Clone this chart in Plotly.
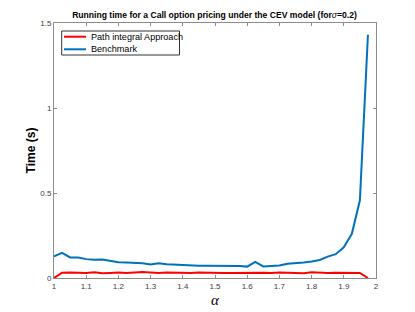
import plotly.graph_objects as go

alpha = [1 + 0.025 * k for k in range(40)]

path_integral = [0.0, 0.031, 0.032, 0.031, 0.029, 0.034, 0.028, 0.030, 0.032, 0.029,
                 0.031, 0.035, 0.032, 0.029, 0.032, 0.031, 0.029, 0.030, 0.032, 0.030,
                 0.030, 0.029, 0.030, 0.031, 0.030, 0.032, 0.031, 0.030, 0.033, 0.031,
                 0.029, 0.028, 0.034, 0.031, 0.030, 0.031, 0.032, 0.033, 0.030, 0.0]

benchmark = [0.127, 0.148, 0.121, 0.121, 0.111, 0.107, 0.109, 0.100, 0.093, 0.091,
             0.091, 0.087, 0.079, 0.087, 0.081, 0.078, 0.077, 0.074, 0.072, 0.072,
             0.072, 0.072, 0.070, 0.071, 0.067, 0.095, 0.068, 0.071, 0.073, 0.084,
             0.086, 0.091, 0.097, 0.106, 0.126, 0.140, 0.181, 0.260, 0.457, 1.431]

series_names = ["Path integral Approach", "Benchmark"]
series_colors = ["#FF0000", "#0072BD"]

x_ticks = [1, 1.1, 1.2, 1.3, 1.4, 1.5, 1.6, 1.7, 1.8, 1.9, 2]
x_tick_text = ["1", "1.1", "1.2", "1.3", "1.4", "1.5", "1.6", "1.7", "1.8", "1.9", "2"]
y_ticks = [0, 0.5, 1, 1.5]
y_tick_text = ["0", "0.5", "1", "1.5"]

fig = go.Figure()
for name, ys, col in zip(series_names, [path_integral, benchmark], series_colors):
    fig.add_trace(go.Scatter(x=alpha, y=ys, mode="lines", name=name,
                             line=dict(color=col, width=2), showlegend=False))

axis_common = dict(showgrid=False, zeroline=False, showline=True, linecolor="#8c8c8c",
                   linewidth=1, mirror="ticks", ticks="inside", ticklen=3, tickcolor="#8c8c8c",
                   automargin=False,
                   tickfont=dict(family="Liberation Sans, Arial", size=8, color="#404040"))

# the page body offsets the figure by 8px, so the figure is 8px smaller
OFF = 8
W, H = 415 - OFF, 312 - OFF
L, R, T, B = 54 - OFF, 39, 23 - OFF, 34
pw, ph = W - L - R, H - T - B

def px_x(p):
    return (p - OFF - L) / pw

def px_y(p):
    return (H - B - (p - OFF)) / ph

# custom compact legend (paper coordinates)
shapes = [dict(type="rect", xref="paper", yref="paper",
               x0=px_x(61.7), x1=px_x(179.5), y0=px_y(55), y1=px_y(31),
               line=dict(color="#333333", width=1), fillcolor="white", layer="above")]
annotations = []
for i, (name, col) in enumerate(zip(series_names, series_colors)):
    yc = 36.7 + 12.6 * i
    shapes.append(dict(type="line", xref="paper", yref="paper",
                       x0=px_x(64), x1=px_x(86), y0=px_y(yc), y1=px_y(yc),
                       line=dict(color=col, width=2), layer="above"))
    annotations.append(dict(text=name, xref="paper", yref="paper", x=px_x(88.5), y=px_y(yc),
                            xanchor="left", yanchor="middle", showarrow=False,
                            font=dict(family="Liberation Sans, Arial", size=9.1, color="black")))

fig.update_layout(
    width=W, height=H,
    margin=dict(l=L, r=R, t=T, b=B),
    paper_bgcolor="white", plot_bgcolor="white",
    title=dict(text="<b>Running time for a Call option pricing under the CEV model (for</b><i>σ</i><b>=0.2)</b>",
               x=(214.5 - OFF) / W, xanchor="center", y=1 - (15 - OFF) / H, yanchor="middle",
               font=dict(family="Liberation Sans, Arial", size=8.6, color="black")),
    xaxis=dict(range=[1, 2], tickvals=x_ticks, ticktext=x_tick_text,
               title=dict(text="<i>α</i>", font=dict(family="Liberation Serif, Times New Roman", size=15, color="black"), standoff=4),
               **axis_common),
    yaxis=dict(range=[0, 1.5], tickvals=y_ticks, ticktext=y_tick_text,
               title=dict(text="<b>Time (s)</b>", font=dict(family="Liberation Sans, Arial", size=12, color="black"), standoff=2),
               **axis_common),
    shapes=shapes, annotations=annotations,
    showlegend=False,
)

fig.write_html("out.html")
